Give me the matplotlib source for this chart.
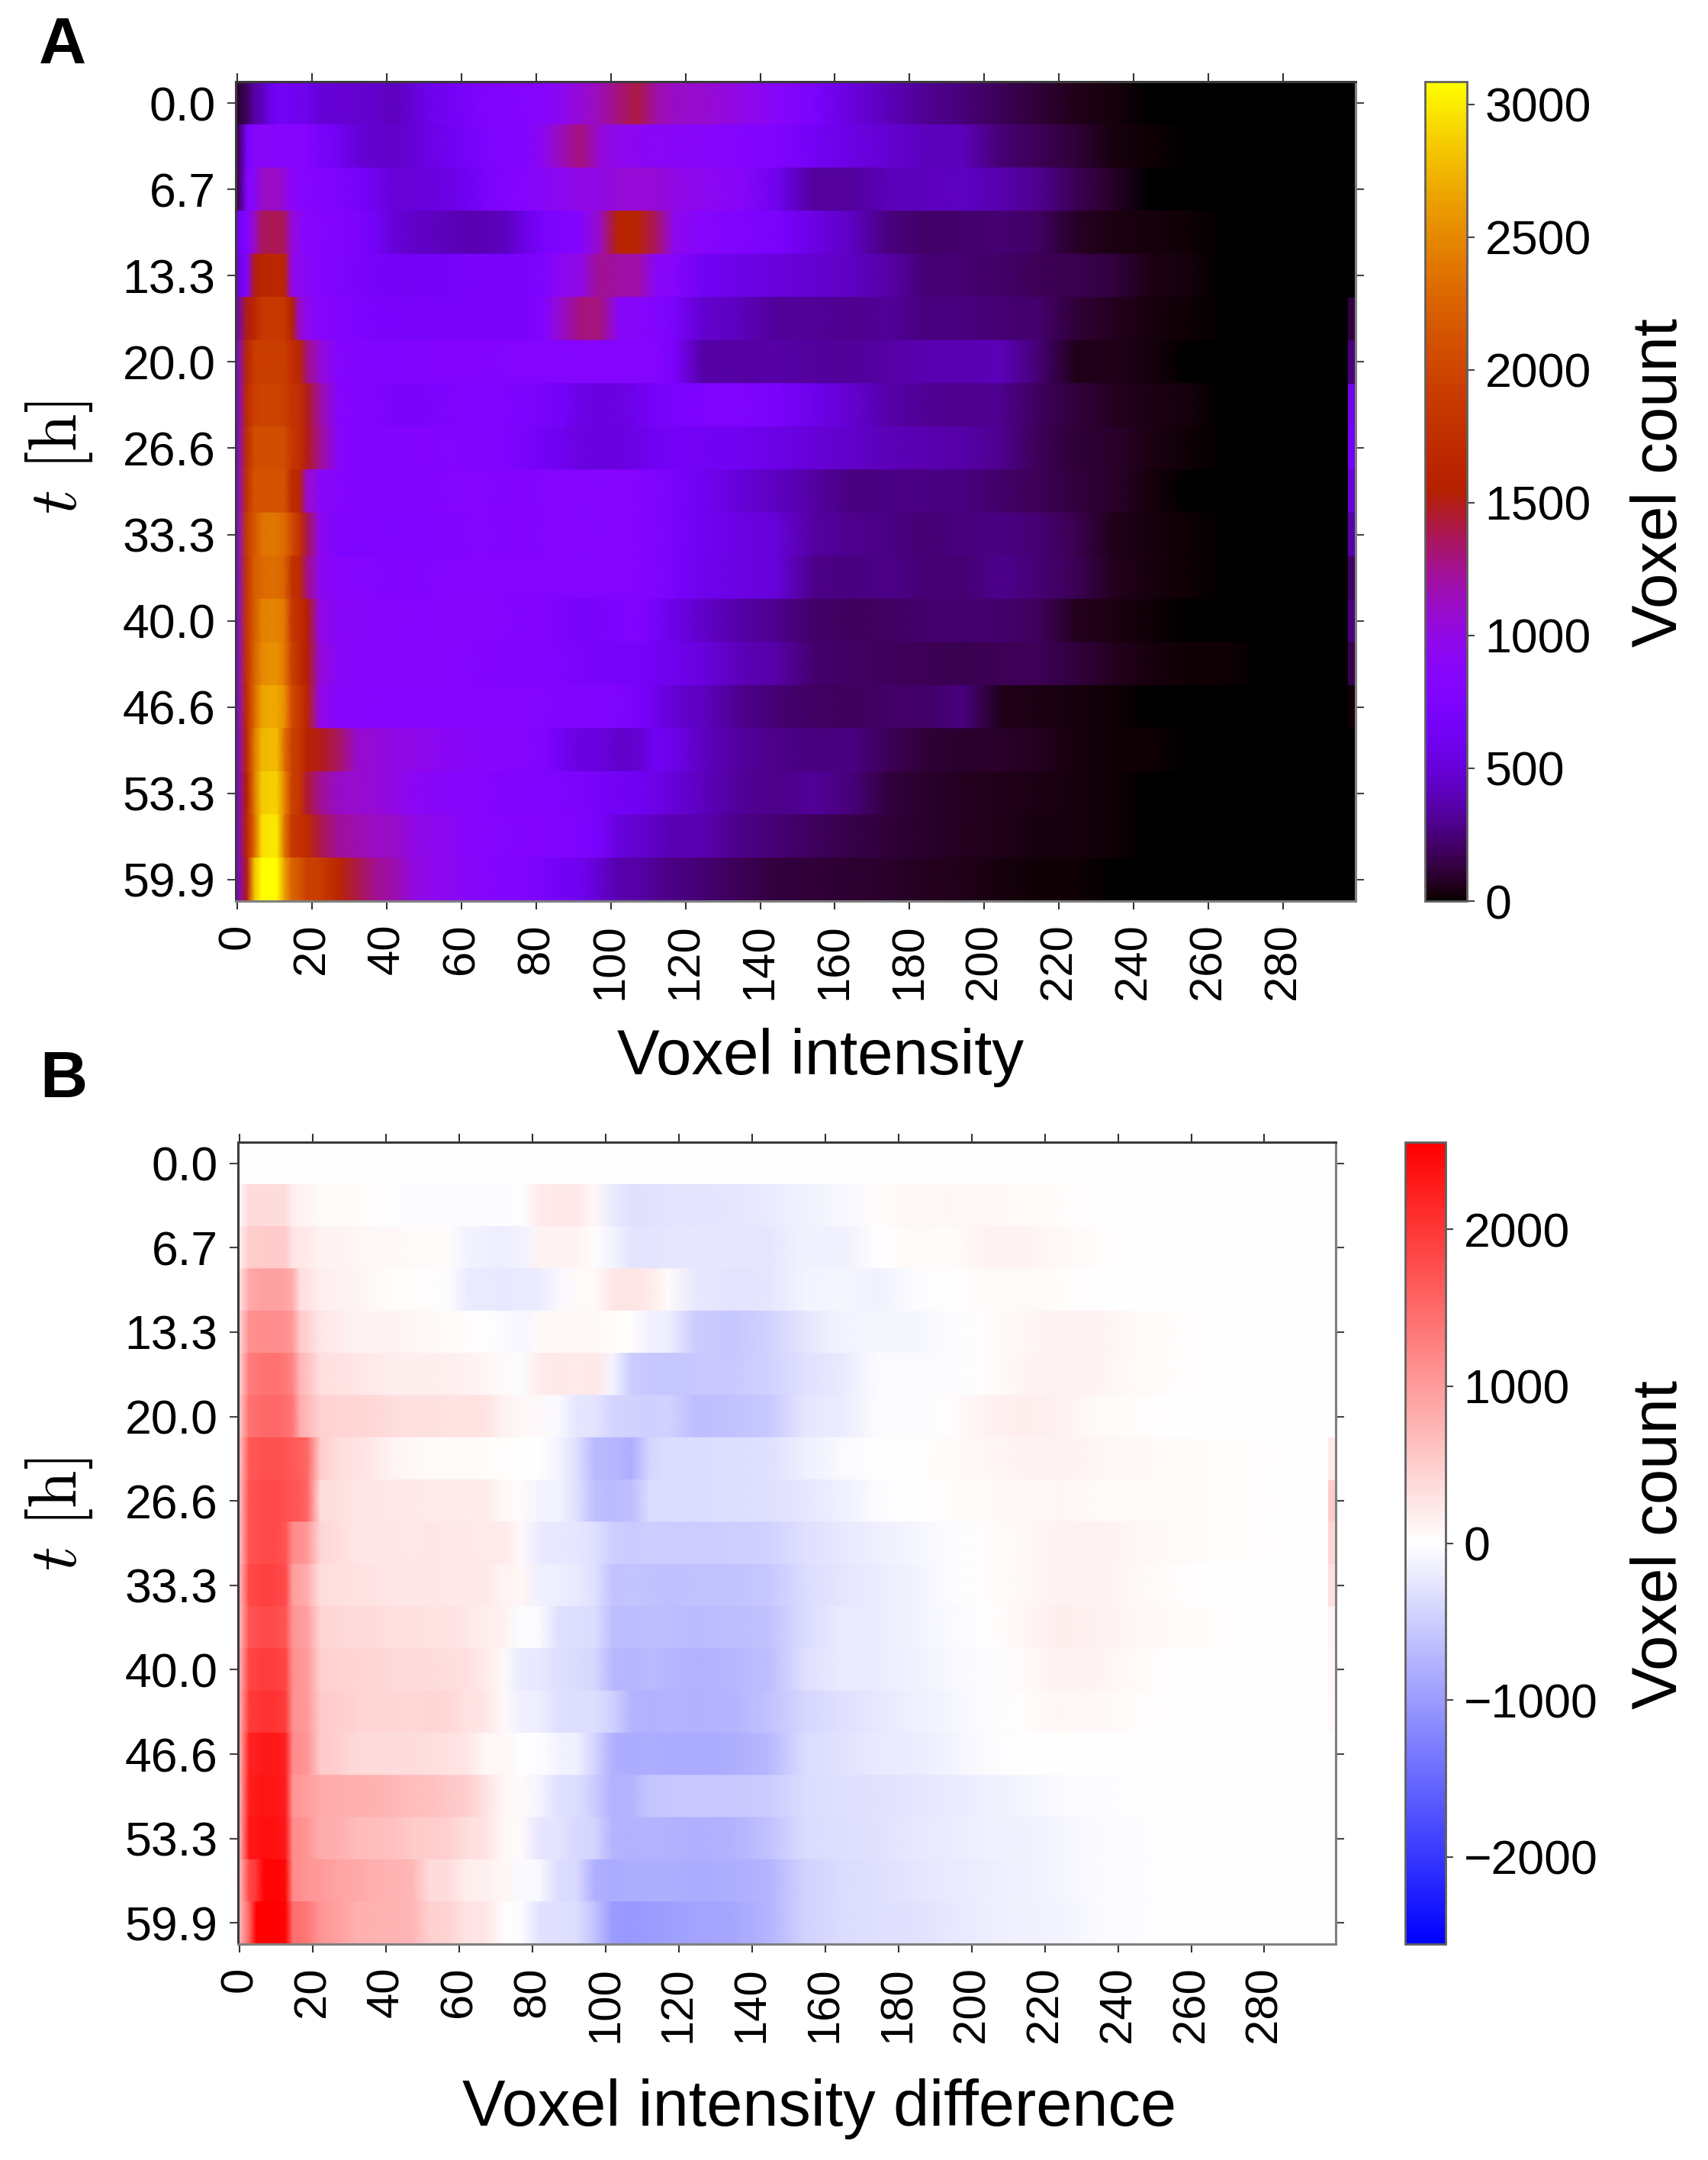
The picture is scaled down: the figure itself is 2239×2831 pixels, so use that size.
import numpy as np
import matplotlib
matplotlib.use('Agg')
import matplotlib.pyplot as plt

plt.rcParams['font.family'] = ['Liberation Sans', 'DejaVu Sans']
plt.rcParams['mathtext.fontset'] = 'cm'

W, H = 2239, 2831

# bin edges of the voxel intensity axis (coarser than the original 300 columns)
x_edges = [0, 2, 4, 6, 8, 10, 12, 14, 16, 18, 20, 25, 30, 35, 40, 45, 50, 55, 60, 65, 70, 75, 80, 85, 90, 95, 100,
           105, 110, 115, 120, 130, 140, 150, 160, 170, 180, 190, 200, 210, 220, 230, 240, 250, 260, 270, 280, 290,
           298, 300]
x_ticks = [0, 20, 40, 60, 80, 100, 120, 140, 160, 180, 200, 220, 240, 260, 280]
t_labels = ['0.0', '6.7', '13.3', '20.0', '26.6', '33.3', '40.0', '46.6', '53.3', '59.9']

# panel A, voxel count per time step
a00 = [80, 200, 350, 400, 550, 650, 650, 620, 600, 580,
       500, 480, 470, 460, 420, 500, 580, 640, 700, 780, 800, 830, 850, 950, 1050, 1150, 1300, 1420, 1200, 1100,
       1080, 1000, 870, 720, 520, 400, 310, 250, 180, 120, 50, 30, 12, 8, 0, 0, 0, 0, 0]
a01 = [100, 700, 850, 870, 870, 850, 850, 840, 830, 820,
       700, 620, 500, 460, 450, 500, 560, 620, 680, 750, 780, 800, 950, 1150, 1300, 1050, 950, 920, 900, 880,
       860, 820, 780, 650, 550, 470, 420, 400, 230, 170, 110, 30, 20, 10, 0, 0, 0, 0, 0]
a02 = [100, 800, 900, 1100, 1120, 1100, 1050, 900, 850, 830,
       800, 750, 680, 600, 500, 500, 520, 560, 620, 720, 800, 830, 900, 950, 1000, 1000, 1050, 1050, 1050, 1000,
       950, 870, 600, 330, 330, 400, 420, 430, 370, 300, 170, 80, 5, 0, 0, 0, 0, 0, 0]
a03 = [600, 800, 1100, 1350, 1380, 1380, 1350, 1050, 950, 850,
       820, 800, 740, 650, 500, 450, 430, 400, 380, 390, 430, 560, 700, 780, 820, 1100, 1600, 1620, 1350, 950,
       850, 780, 720, 550, 430, 260, 210, 220, 240, 200, 80, 45, 25, 15, 10, 0, 0, 0, 0]
a04 = [500, 800, 1500, 1620, 1640, 1640, 1620, 1000, 950, 880,
       820, 780, 720, 680, 660, 650, 650, 680, 700, 700, 700, 720, 760, 950, 1000, 1250, 1200, 1200, 900, 850,
       650, 560, 520, 470, 430, 350, 230, 230, 210, 170, 160, 130, 40, 25, 12, 3, 0, 0, 0]
a05 = [500, 1500, 1650, 1850, 1860, 1860, 1850, 1600, 1100, 950,
       850, 800, 750, 720, 720, 700, 700, 700, 700, 700, 700, 720, 800, 1100, 1300, 1300, 900, 850, 800, 700,
       480, 420, 320, 320, 300, 320, 260, 260, 240, 220, 120, 70, 30, 20, 10, 10, 0, 0, 130]
a06 = [700, 1650, 1900, 1920, 1920, 1920, 1900, 1750, 1650, 1300,
       1050, 820, 800, 780, 780, 790, 800, 800, 800, 800, 810, 810, 810, 810, 820, 820, 820, 830, 820, 700,
       360, 340, 350, 330, 320, 360, 380, 380, 400, 240, 60, 50, 25, 10, 8, 3, 5, 0, 250]
a07 = [700, 1700, 1950, 1980, 1980, 1970, 1950, 1800, 1750, 1500,
       1200, 830, 800, 780, 700, 700, 730, 760, 780, 780, 760, 740, 700, 660, 560, 520, 540, 600, 680, 730,
       750, 780, 700, 570, 470, 360, 310, 300, 300, 190, 130, 70, 40, 25, 12, 8, 5, 6, 600]
a08 = [700, 1750, 2050, 2080, 2080, 2070, 2050, 1850, 1750, 1500,
       1250, 850, 800, 790, 790, 800, 800, 810, 800, 780, 760, 700, 640, 600, 540, 520, 530, 560, 620, 660,
       650, 620, 560, 500, 450, 400, 380, 350, 290, 170, 110, 90, 40, 15, 12, 10, 5, 5, 650]
a09 = [700, 1800, 2100, 2120, 2120, 2120, 2100, 1700, 1650, 1100,
       900, 820, 800, 790, 790, 790, 800, 810, 810, 810, 800, 800, 810, 810, 810, 820, 820, 820, 780, 700,
       620, 500, 430, 340, 260, 270, 270, 260, 210, 170, 130, 90, 30, 12, 8, 6, 6, 3, 500]
a10 = [700, 1900, 2150, 2350, 2380, 2380, 2300, 2050, 1800, 1400,
       950, 780, 750, 750, 760, 770, 780, 800, 810, 810, 800, 800, 810, 810, 810, 820, 830, 830, 780, 700,
       620, 550, 500, 340, 290, 270, 240, 260, 270, 230, 160, 55, 25, 15, 8, 6, 6, 0, 350]
a11 = [700, 1850, 2200, 2300, 2320, 2320, 2250, 1800, 1700, 1300,
       950, 850, 820, 810, 800, 800, 810, 820, 820, 830, 830, 830, 820, 820, 820, 830, 830, 820, 780, 700,
       600, 550, 500, 280, 260, 280, 240, 230, 290, 240, 170, 70, 30, 15, 8, 5, 5, 0, 200]
a12 = [700, 1850, 2200, 2450, 2480, 2480, 2400, 1850, 1750, 1550,
       1000, 880, 860, 850, 840, 830, 830, 840, 850, 840, 820, 800, 800, 740, 680, 700, 760, 780, 680, 560,
       450, 350, 290, 210, 190, 200, 220, 220, 220, 190, 70, 40, 15, 10, 8, 5, 1, 0, 250]
a13 = [700, 1800, 2250, 2500, 2550, 2550, 2400, 1950, 1750, 1550,
       1050, 870, 850, 840, 840, 840, 850, 830, 820, 800, 800, 790, 790, 760, 720, 700, 680, 680, 640, 590,
       520, 400, 350, 220, 200, 190, 170, 160, 170, 180, 130, 70, 35, 20, 15, 7, 5, 0, 150]
a14 = [700, 1750, 2300, 2650, 2680, 2680, 2550, 2050, 1850, 1650,
       1000, 850, 840, 830, 830, 830, 830, 830, 830, 830, 830, 830, 810, 800, 790, 780, 760, 720, 580, 470,
       430, 300, 240, 200, 190, 210, 210, 260, 60, 40, 30, 20, 12, 8, 6, 0, 0, 0, 20]
a15 = [700, 1700, 2400, 2750, 2780, 2780, 2350, 1950, 1850, 1600,
       1500, 1350, 1080, 1050, 1000, 980, 950, 900, 870, 850, 850, 840, 780, 620, 520, 520, 450, 470, 620, 560,
       430, 330, 280, 260, 270, 180, 110, 85, 85, 70, 25, 20, 15, 0, 0, 0, 0, 0, 0]
a16 = [650, 1600, 2400, 2850, 2880, 2880, 2500, 1950, 1850, 1450,
       1250, 1100, 1080, 1050, 1000, 920, 880, 860, 830, 820, 800, 790, 780, 760, 730, 680, 640, 620, 560, 500,
       420, 320, 280, 320, 250, 130, 90, 65, 60, 45, 30, 22, 0, 0, 0, 0, 0, 0, 0]
a17 = [650, 1650, 2300, 2950, 2980, 2980, 2400, 1850, 1800, 1700,
       1400, 1220, 1180, 1120, 1100, 1000, 960, 930, 850, 820, 810, 800, 800, 790, 760, 700, 520, 480, 430, 380,
       380, 280, 240, 190, 150, 110, 85, 70, 50, 30, 25, 20, 5, 0, 0, 0, 0, 0, 0]
a18 = [650, 1500, 2800, 3085, 3085, 3085, 2650, 2250, 2150, 1950,
       1900, 1650, 1400, 1250, 1180, 1020, 960, 930, 860, 830, 800, 790, 700, 640, 600, 480, 370, 350, 310, 270,
       240, 170, 130, 110, 100, 85, 65, 50, 30, 20, 15, 0, 0, 0, 0, 0, 0, 0, 0]

# panel B, voxel count difference per time step
b00 = [0, 0, 0, 0, 0, 0, 0, 0, 0, 0,
       0, 0, 0, 0, 0, 0, 0, 0, 0, 0, 0, 0, 0, 0, 0, 0, 0, 0, 0, 0,
       0, 0, 0, 0, 0, 0, 0, 0, 0, 0, 0, 0, 0, 0, 0, 0, 0, 0, 0]
b01 = [50, 350, 350, 350, 350, 350, 350, 150, 120, 100,
       50, 40, 30, 20, -10, -20, -30, -20, -30, -30, -20, -10, 200, 230, 220, 60, -200, -300, -280, -260,
       -260, -240, -200, -120, -60, 30, 80, 90, 60, 40, 20, 0, 0, 0, 0, 0, 0, 0, 0]
b02 = [100, 500, 500, 500, 520, 520, 500, 250, 220, 200,
       130, 110, 80, 70, 60, 40, 40, 30, -100, -150, -160, -120, 100, 120, 110, 20, -100, -260, -260, -240,
       -250, -250, -250, -120, -150, 0, 50, 30, 120, 100, 70, 20, 0, 0, 0, 0, 0, 0, 0]
b03 = [200, 850, 900, 950, 950, 950, 900, 800, 300, 280,
       150, 120, 100, 50, 30, 30, 20, -30, -180, -200, -220, -200, -180, -60, 40, 50, 250, 260, 200, 40,
       -230, -260, -250, -100, -80, -130, -30, 0, 50, 40, 20, 0, 0, 0, 0, 0, 0, 0, 0]
b04 = [300, 1100, 1120, 1150, 1150, 1150, 1100, 1000, 500, 450,
       250, 180, 100, 110, 100, 80, 60, 50, 20, 0, -50, -80, 50, 60, 80, 60, 30, 20, -130, -170,
       -500, -560, -450, -250, -100, -80, -80, -30, 20, 80, 120, 120, 50, 20, 0, 0, 0, 0, 0]
b05 = [300, 1300, 1350, 1400, 1400, 1400, 1350, 1200, 700, 600,
       300, 280, 250, 200, 170, 170, 160, 150, 120, 90, 50, -20, 180, 220, 200, 220, -100, -500, -550, -560,
       -550, -550, -450, -300, -200, -30, -50, -20, 20, 100, 120, 100, 50, 20, 0, 0, 0, 0, 0]
b06 = [400, 1400, 1450, 1500, 1500, 1500, 1450, 1350, 800, 700,
       450, 430, 400, 380, 320, 300, 300, 290, 280, 270, 120, 70, 60, -50, -240, -260, -430, -450, -460, -450,
       -640, -600, -550, -250, -180, -30, -30, 20, 130, 170, 130, 40, 20, 0, 0, 0, 0, 0, 0]
b07 = [450, 1650, 1700, 1750, 1750, 1750, 1700, 1650, 1600, 1500,
       500, 320, 280, 200, 100, 60, 50, 40, 50, 30, 20, 0, -10, -100, -300, -680, -720, -800, -400, -350,
       -340, -320, -300, -150, -50, 0, 0, 50, 80, 100, 120, 90, 70, 50, 30, 20, 10, 0, 200]
b08 = [450, 1700, 1750, 1800, 1800, 1800, 1750, 1700, 1650, 1500,
       350, 300, 250, 240, 220, 230, 210, 200, 180, 200, 60, 40, -100, -110, -300, -620, -680, -650, -350, -340,
       -350, -330, -300, -250, -150, -20, 0, 30, 50, 80, 80, 50, 50, 40, 30, 20, 10, 0, 500]
b09 = [450, 1700, 1750, 1800, 1800, 1780, 1700, 1150, 1100, 1000,
       400, 320, 250, 250, 240, 230, 250, 230, 220, 210, 200, 50, -200, -220, -240, -300, -480, -520, -480, -500,
       -500, -480, -450, -300, -220, -150, -80, -20, 30, 70, 130, 130, 80, 50, 30, 20, 10, 0, 400]
b10 = [500, 1800, 1850, 1900, 1900, 1850, 1800, 950, 900, 800,
       320, 300, 280, 270, 250, 250, 240, 230, 220, 230, 100, 80, -150, -170, -200, -300, -600, -580, -600, -620,
       -600, -600, -550, -350, -250, -180, -100, -20, 30, 60, 120, 130, 70, 30, 10, 0, 0, 0, 300]
b11 = [500, 1700, 1750, 1800, 1800, 1750, 1700, 1050, 1000, 950,
       420, 380, 350, 340, 300, 300, 290, 280, 230, 170, 120, -30, -40, -300, -320, -350, -640, -660, -640, -650,
       -680, -650, -600, -350, -200, -180, -100, -50, 10, 80, 160, 130, 80, 40, 20, 0, 0, 0, 120]
b12 = [600, 1850, 1900, 1950, 1950, 1900, 1850, 1100, 1050, 1000,
       470, 440, 430, 420, 370, 350, 350, 330, 300, 200, 50, -200, -220, -300, -350, -400, -700, -720, -680, -720,
       -760, -720, -650, -300, -200, -180, -120, -60, -20, 40, 120, 110, 40, 10, 0, 0, 0, 0, 80]
b13 = [600, 1950, 2000, 2050, 2050, 2000, 1950, 1100, 1050, 1000,
       520, 480, 420, 400, 400, 390, 400, 380, 280, 240, 50, -150, -170, -300, -320, -330, -460, -750, -760, -740,
       -760, -740, -600, -400, -300, -230, -150, -80, -30, 30, 80, 60, 30, 10, 0, 0, 0, 0, 60]
b14 = [500, 2200, 2250, 2300, 2300, 2280, 2200, 1150, 1100, 1050,
       520, 460, 360, 350, 350, 340, 330, 280, 240, 90, 60, 0, -30, -110, -150, -420, -780, -820, -800, -820,
       -840, -800, -700, -350, -280, -200, -180, -100, -30, 0, -10, 0, 0, 0, 0, 0, 0, 0, 0]
b15 = [500, 2250, 2300, 2350, 2350, 2300, 2250, 1050, 1000, 950,
       850, 800, 780, 760, 700, 650, 620, 550, 480, 280, 80, 40, -100, -300, -320, -500, -760, -740, -560, -540,
       -550, -540, -500, -350, -300, -280, -250, -200, -150, -80, -50, -20, -10, 0, 0, 0, 0, 0, 0]
b16 = [500, 2300, 2350, 2400, 2400, 2350, 2300, 1150, 1100, 1050,
       820, 780, 680, 650, 620, 520, 500, 470, 320, 280, 70, 50, -240, -260, -380, -420, -740, -760, -740, -760,
       -780, -760, -600, -350, -320, -280, -220, -180, -150, -120, -80, -40, -20, 0, 0, 0, 0, 0, 0]
b17 = [500, 1800, 2000, 2500, 2500, 2500, 2450, 1150, 1100, 1050,
       1000, 900, 860, 780, 750, 730, 350, 340, 160, 140, 80, -40, -60, -340, -360, -780, -820, -800, -810, -800,
       -820, -800, -750, -450, -350, -300, -250, -200, -160, -120, -80, -40, -20, 0, 0, 0, 0, 0, 0]
b18 = [600, 1500, 2555, 2555, 2555, 2555, 2500, 1450, 1400, 1350,
       1050, 950, 780, 760, 740, 720, 460, 440, 260, 240, 30, -20, -290, -300, -320, -600, -1000, -1020, -980, -960,
       -900, -880, -750, -450, -350, -300, -280, -220, -160, -130, -100, -50, -20, 0, 0, 0, 0, 0, 0]

counts = np.array([a00, a01, a02, a03, a04, a05, a06, a07, a08, a09, a10, a11, a12, a13, a14, a15, a16, a17, a18])
diffs = np.array([b00, b01, b02, b03, b04, b05, b06, b07, b08, b09, b10, b11, b12, b13, b14, b15, b16, b17, b18])

# nodes for the shaded rows: bin centres, stretched to the outer edges of the axis
edges = np.array(x_edges, dtype=float)
x_nodes = (edges[:-1] + edges[1:]) / 2
x_nodes[0] = 0
x_nodes[-2] = 298


def px_axes(fig, left, top, right, bottom):
    return fig.add_axes([left / W, 1 - bottom / H, (right - left) / W, (bottom - top) / H])


def draw_panel(fig, box, cbox, values, cmap, vmin, vmax, cticks, clabels):
    ax = px_axes(fig, *box)
    # one gouraud strip per time step: smooth along x, hard edges between rows
    for i, row in enumerate(values):
        c = np.vstack([row[:-1], row[:-1]])
        mesh = ax.pcolormesh(x_nodes[:-1], [i, i + 1], c, shading='gouraud', cmap=cmap, vmin=vmin, vmax=vmax)
        ax.pcolormesh([298, 300], [i, i + 1], [[row[-1]]], cmap=cmap, vmin=vmin, vmax=vmax)
    ax.set_xlim(0, 300)
    ax.set_ylim(19, 0)
    ax.set_xticks([v + 0.5 for v in x_ticks])
    ax.set_xticklabels(x_ticks, rotation=90, fontsize=43)
    ax.set_yticks(np.arange(0, 19, 2) + 0.5)
    ax.set_yticklabels(t_labels, fontsize=45)
    ax.tick_params(axis='x', top=True, length=8, width=1.5, pad=13, color='#333333')
    ax.tick_params(axis='y', right=True, length=8, width=1.5, pad=11, color='#444444')
    for name, spine in ax.spines.items():
        spine.set_linewidth(2.2)
        spine.set_color('#3a3a3a' if name in ('top', 'left') else '#808080')

    cax = px_axes(fig, *cbox)
    cbar = fig.colorbar(mesh, cax=cax)
    cbar.set_ticks(cticks)
    cbar.set_ticklabels(clabels, fontsize=45)
    cbar.ax.tick_params(length=7, width=1.5, pad=10, color='#444444')
    cbar.outline.set_linewidth(2)
    cbar.outline.set_edgecolor('#606060')
    return ax


def put(fig, x, y, text, **kw):
    fig.text(x / W, 1 - y / H, text, **kw)


fig = plt.figure(figsize=(W / 100, H / 100), dpi=100)

draw_panel(fig, (309, 107, 1777, 1181), (1868, 107, 1923, 1181), counts, 'gnuplot', 0, 3085,
           [0, 500, 1000, 1500, 2000, 2500, 3000], ['0', '500', '1000', '1500', '2000', '2500', '3000'])
draw_panel(fig, (312, 1497, 1751, 2548), (1842, 1497, 1895, 2548), diffs, 'bwr', -2555, 2555,
           [-2000, -1000, 0, 1000, 2000], ['\u22122000', '\u22121000', '0', '1000', '2000'])

put(fig, 51, 83, 'A', fontsize=62, fontweight='bold', ha='left', va='baseline')
put(fig, 52, 1438, 'B', fontsize=62, fontweight='bold', ha='left', va='baseline')

put(fig, 1076, 1408, 'Voxel intensity', fontsize=60, ha='center', va='baseline')
put(fig, 1074, 2786, 'Voxel intensity difference', fontsize=61, ha='center', va='baseline')

for yc in (600, 1985):
    put(fig, 78, yc, r'$t\ [\mathrm{h}]$', fontsize=64, rotation=90, ha='center', va='center')
for yc in (633, 2025):
    put(fig, 2176, yc, 'Voxel count', fontsize=60, rotation=90, ha='center', va='center')

fig.savefig('out.png', dpi=100)
